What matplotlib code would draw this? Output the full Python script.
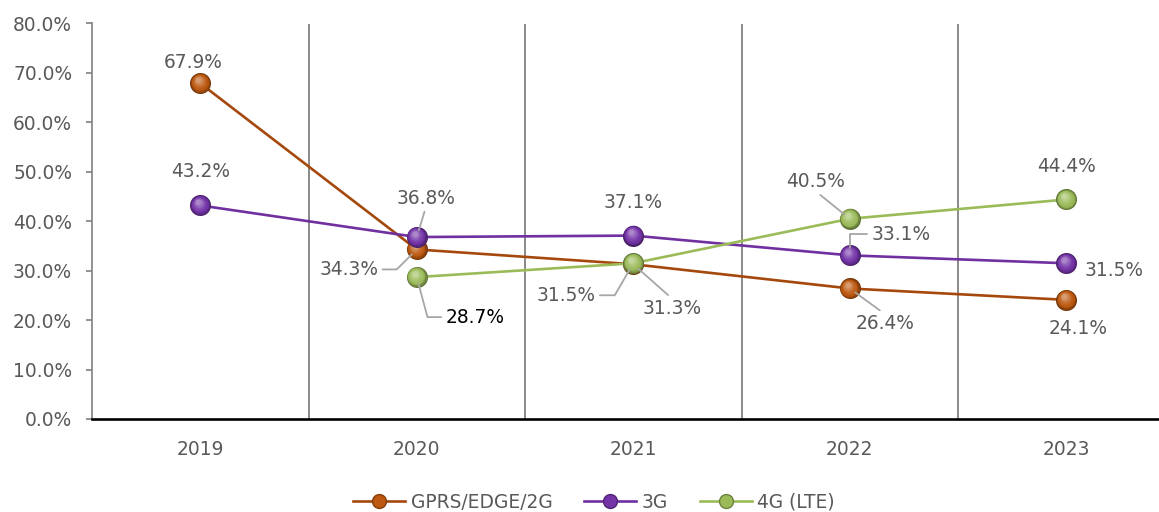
import matplotlib
matplotlib.use('Agg')
import matplotlib.pyplot as plt
import matplotlib.transforms as mtransforms
from matplotlib.lines import Line2D
from matplotlib.colors import to_rgb
import numpy as np

# Data
YEARS = ['2019', '2020', '2021', '2022', '2023']
SERIES_NAMES = ['GPRS/EDGE/2G', '3G', '4G (LTE)']
GPRS_2G = [67.9, 34.3, 31.3, 26.4, 24.1]
NET_3G = [43.2, 36.8, 37.1, 33.1, 31.5]
LTE_4G = [np.nan, 28.7, 31.5, 40.5, 44.4]
Y_TICKS = [0, 10, 20, 30, 40, 50, 60, 70, 80]

# Styles
LINE_COLORS = ['#A5480C', '#7030A0', '#9BBB59']
BALL_COLORS = ['#BC5810', '#7434A8', '#9BBB59']
TEXT_GREY = '#595959'
LEADER_GREY = '#A6A6A6'
FONT_SIZE = 13.4

# label placement per series: (dx, dy, leader) in pixels from the point
STRAIGHT_UP = dict(relpos=(0.5, 0.0))
STRAIGHT_DOWN = dict(relpos=(0.5, 1.0))
LABELS = [
    [(-7, 21, None),
     (-68, -20, dict(relpos=(1, 0.5), connectionstyle='angle,angleA=0,angleB=45,rad=0')),
     (39, -44, STRAIGHT_DOWN),
     (35, -35, STRAIGHT_DOWN),
     (12, -29, None)],
    [(0, 34, None),
     (9, 39, STRAIGHT_UP),
     (0, 33, None),
     (51, 21, dict(relpos=(0, 0.5), connectionstyle='angle,angleA=0,angleB=90,rad=0')),
     (48, -7, None)],
    [None,
     (58, -40, dict(relpos=(0, 0.5), connectionstyle='angle,angleA=0,angleB=105,rad=0')),
     (-67, -32, dict(relpos=(1, 0.5), connectionstyle='angle,angleA=0,angleB=60,rad=0')),
     (-34, 37, STRAIGHT_UP),
     (0, 33, None)],
]


def draw_spheres(ax, xs, ys, color, zorder, diameter=21):
    """Fake the shaded ball markers with stacked, shifted circles."""
    base = np.array(to_rgb(color))
    dark = base * 0.6
    light = base + (1 - base) * 0.4
    n = 12
    for k in range(n):
        t = k / (n - 1)
        if t < 0.3:
            c = dark + (base - dark) * (t / 0.3)
        else:
            c = base + (light - base) * ((t - 0.3) / 0.7) ** 1.5
        d = diameter * (1 - 0.75 * t)
        off = 3.5 * t
        tr = mtransforms.offset_copy(ax.transData, fig=ax.figure,
                                     x=-off * 0.6, y=off, units='dots')
        ax.scatter(xs, ys, s=(d * 0.72) ** 2, color=c, linewidths=0,
                   transform=tr, zorder=zorder)


def main():
    plt.rcParams['font.family'] = ['DejaVu Sans']
    fig = plt.figure(figsize=(11.59, 5.12), dpi=100)
    ax = fig.add_axes([92 / 1159, 93 / 512, 1082.5 / 1159, 395.5 / 512])

    x = np.arange(len(YEARS))
    series = [GPRS_2G, NET_3G, LTE_4G]

    # category separators
    ax.vlines(x[:-1] + 0.5, 0, Y_TICKS[-1], color='#808080', lw=1.3, zorder=1)

    for i, values in enumerate(series):
        vals = np.array(values, dtype=float)
        ok = ~np.isnan(vals)
        ax.plot(x[ok], vals[ok], color=LINE_COLORS[i], lw=1.9, zorder=2 + 2 * i,
                solid_capstyle='round')
        draw_spheres(ax, x[ok], vals[ok], BALL_COLORS[i], 3 + 2 * i)

        for j, v in enumerate(vals):
            place = LABELS[i][j]
            if place is None or np.isnan(v):
                continue
            dx, dy, leader = place
            arrow = None
            if leader is not None:
                arrow = dict(arrowstyle='-', color=LEADER_GREY, lw=1.3,
                             shrinkA=1, shrinkB=5)
                arrow.update(leader)
            colour = 'black' if (i == 2 and j == 1) else TEXT_GREY
            ax.annotate(f'{v:.1f}%', xy=(j, v), xytext=(dx, dy),
                        textcoords='offset pixels', ha='center', va='center',
                        fontsize=FONT_SIZE, color=colour, arrowprops=arrow,
                        zorder=20)

    ax.set_xlim(-0.5, len(YEARS) - 0.5)
    ax.set_ylim(Y_TICKS[0], Y_TICKS[-1])
    ax.set_xticks(x)
    ax.set_xticklabels(YEARS)
    ax.set_yticks(Y_TICKS)
    ax.set_yticklabels([f'{t:.1f}%' for t in Y_TICKS])

    for side in ['top', 'right']:
        ax.spines[side].set_visible(False)
    ax.spines['left'].set_color('#808080')
    ax.spines['left'].set_linewidth(1.2)
    ax.spines['bottom'].set_color('black')
    ax.spines['bottom'].set_linewidth(1.9)
    ax.spines['bottom'].set_zorder(15)
    ax.tick_params(axis='y', length=4.3, width=1.2, color='#808080', pad=10,
                   labelsize=FONT_SIZE, labelcolor=TEXT_GREY)
    ax.tick_params(axis='x', length=0, pad=15, labelsize=FONT_SIZE,
                   labelcolor=TEXT_GREY)

    handles = [Line2D([], [], color=LINE_COLORS[i], lw=1.9, marker='o',
                      markersize=10, markerfacecolor=BALL_COLORS[i],
                      markeredgecolor=np.array(to_rgb(BALL_COLORS[i])) * 0.7)
               for i in range(len(SERIES_NAMES))]
    leg = fig.legend(handles, SERIES_NAMES, loc='center', ncol=3, frameon=False,
                     bbox_to_anchor=(594 / 1159, 10 / 512), fontsize=FONT_SIZE,
                     handlelength=2.8, handletextpad=0.3, columnspacing=1.7)
    for t in leg.get_texts():
        t.set_color(TEXT_GREY)

    fig.savefig('out.png', dpi=100)


if __name__ == '__main__':
    main()
